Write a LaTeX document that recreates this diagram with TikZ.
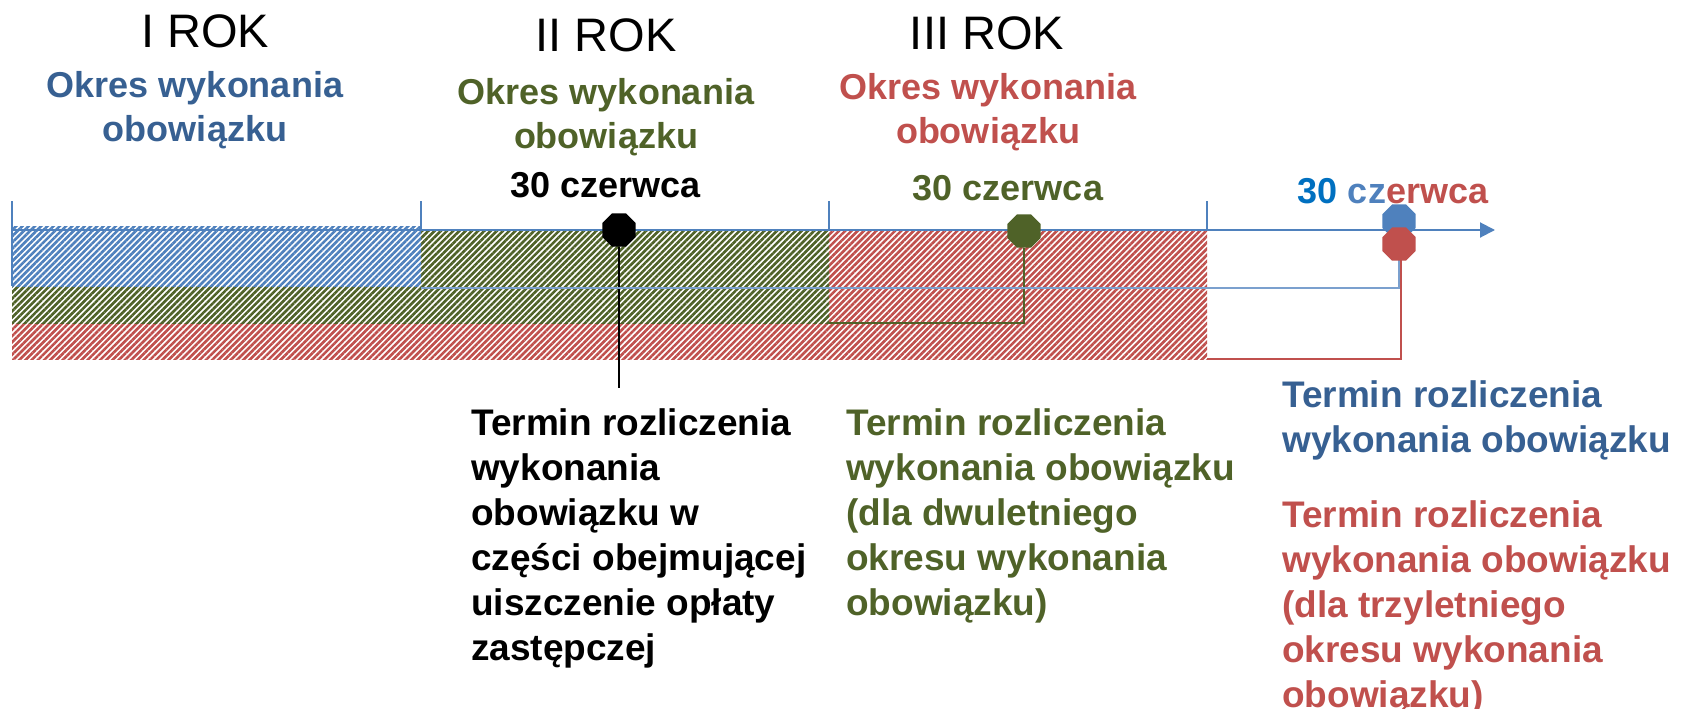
\documentclass[tikz,border=0pt]{standalone}
\usepackage{fontspec}
\setmainfont{Liberation Sans}
\usetikzlibrary{shapes.geometric, patterns.meta, arrows.meta}

\definecolor{hblue}{HTML}{4F81BD}
\definecolor{hgreen}{HTML}{4F6228}
\definecolor{hred}{HTML}{C0504D}
\definecolor{tblue}{HTML}{376092}
\definecolor{dblue}{HTML}{0070C0}

\begin{document}
\begin{tikzpicture}[x=1pt, y=-1pt,
    rok/.style={anchor=base, font=\fontsize{47}{50}\selectfont},
    okres/.style={anchor=north, inner sep=0pt, align=center, font=\bfseries\fontsize{36}{44}\selectfont},
    date/.style={anchor=base, inner sep=0pt, font=\bfseries\fontsize{36}{40}\selectfont},
    termin/.style={anchor=north west, inner sep=0pt, align=left, font=\bfseries\fontsize{37}{45}\selectfont},
    dot/.style={regular polygon, regular polygon sides=8, minimum size=36pt, inner sep=0pt},
    band/.style={preaction={fill=white}, pattern={Lines[angle=45, distance=4.4pt, line width=2.6pt]}},
    tick/.style={hblue, line width=1.5pt},
    link/.style={line width=2pt}]
  \useasboundingbox (0,0) rectangle (1687,709);

  % hatched periods
  \path[band, pattern color=hred]   (12,230) rectangle (1207,359);
  \path[band, pattern color=hgreen] (12,230) rectangle (829,323);
  \path[band, pattern color=hblue]  (12,226) rectangle (421,286);

  % time axis
  \coordinate (start) at (12,230);
  \coordinate (end) at (1495,230);
  \draw[hblue, line width=2pt, -{Triangle[length=15pt, width=15pt]}] (start) -- (end);
  \draw[tick] (12,201) -- (12,286);
  \foreach \x in {421, 829, 1207}
    \draw[tick] (\x,201) -- (\x,230);

  % years
  \node[rok] (rok1) at (205,48) {I ROK};
  \node[rok] (rok2) at (606,52) {II ROK};
  \node[rok] (rok3) at (987,50) {III ROK};

  \node[okres, tblue]  (okres1) at (195,71) {Okres wykonania\\obowiązku};
  \node[okres, hgreen] (okres2) at (606,78) {Okres wykonania\\obowiązku};
  \node[okres, hred]   (okres3) at (988,73) {Okres wykonania\\obowiązku};

  \node[date] (data1) at (606,197) {30 czerwca};
  \node[date, hgreen] (data2) at (1008,200) {30 czerwca};
  \node[date] (data3) at (1393,203)
    {\textcolor{dblue}{30} \textcolor{hblue}{cz}\textcolor{hred}{erwca}};

  % deadlines
  \coordinate (kend) at (619,388);
  \coordinate (gstart) at (829,323);
  \coordinate (bstart) at (421,288);
  \coordinate (rstart) at (1207,359);

  \node[dot, fill=black]  (dotK) at (619,230) {};
  \node[dot, fill=hgreen] (dotG) at (1024,231) {};
  \node[dot, fill=hblue]  (dotB) at (1399,221) {};

  \draw[link] (dotK) -- (kend);
  \draw[link, hgreen] (gstart) -| (dotG);
  \draw[link, hblue!75] (bstart) -| (dotB);
  \draw[link, hred] (rstart) -| (1401,250);
  \node[dot, fill=hred] (dotR) at (1399,244) {};

  \node[termin] (opis1) at (471,408)
    {Termin rozliczenia\\wykonania\\obowiązku w\\części obejmującej\\uiszczenie opłaty\\zastępczej};
  \node[termin, hgreen] (opis2) at (846,408)
    {Termin rozliczenia\\wykonania obowiązku\\(dla dwuletniego\\okresu wykonania\\obowiązku)};
  \node[termin, tblue] (opis3) at (1282,380)
    {Termin rozliczenia\\wykonania obowiązku};
  \node[termin, hred] (opis4) at (1282,500)
    {Termin rozliczenia\\wykonania obowiązku\\(dla trzyletniego\\okresu wykonania\\obowiązku)};
\end{tikzpicture}
\end{document}
